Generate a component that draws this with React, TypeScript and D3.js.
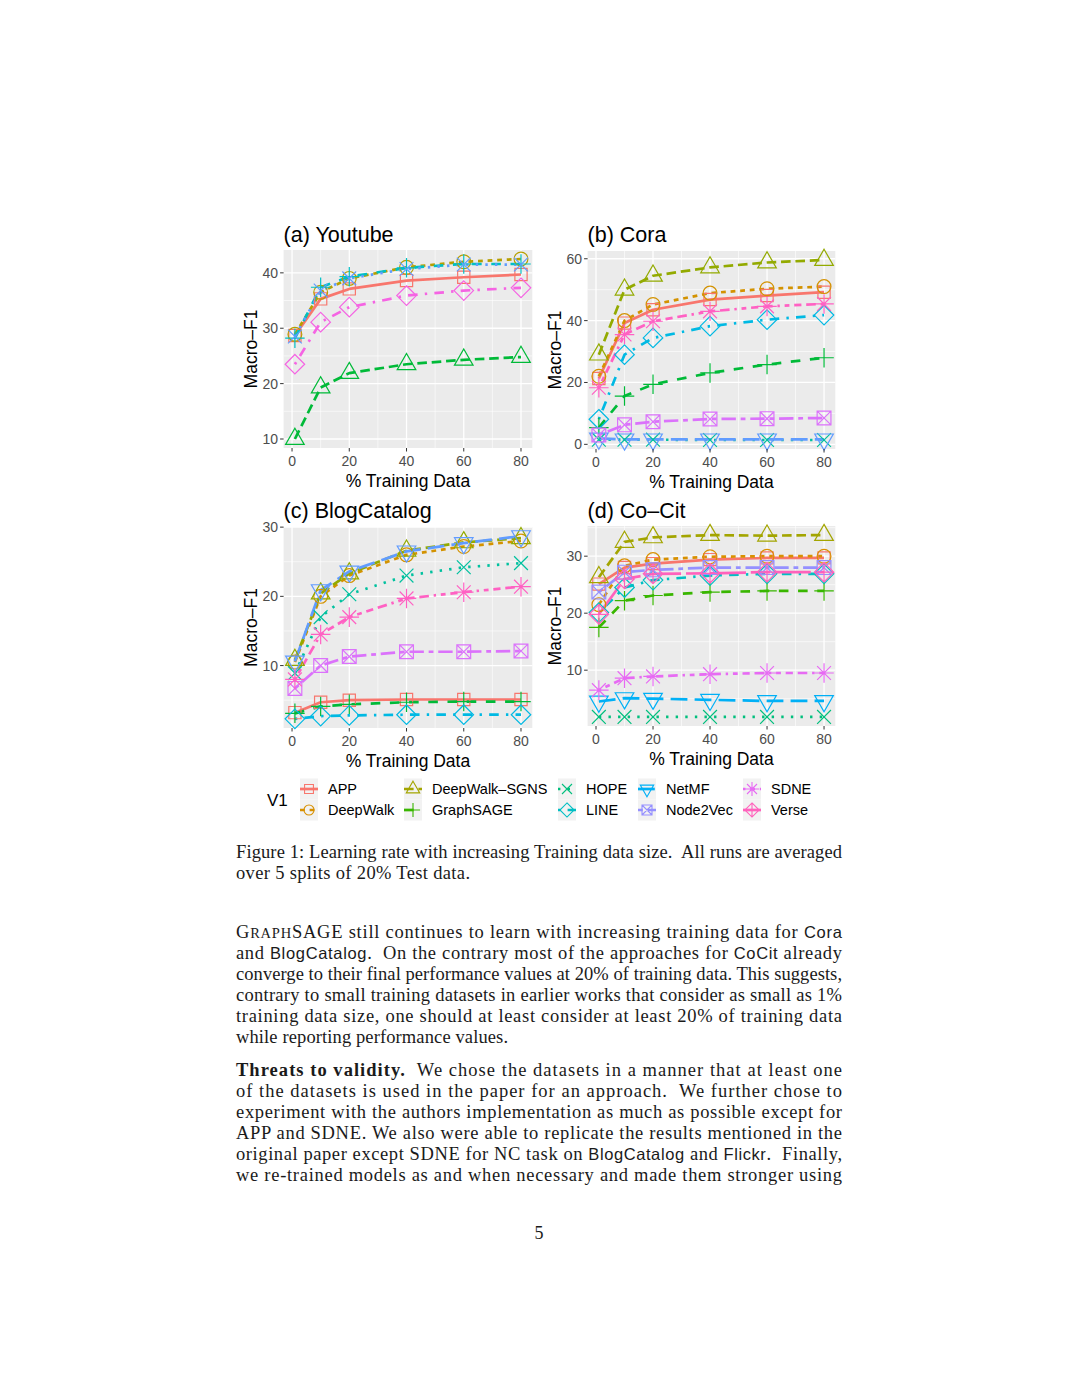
import React from "react"
import * as d3 from "d3"

// x values shared by all panels (% of training data)
const trainPct = [1, 10, 20, 40, 60, 80]
const xTicks = [0, 20, 40, 60, 80]

// (a) Youtube
const youtubeMethods = ["APP", "DeepWalk", "DeepWalk–SGNS", "GraphSAGE", "HOPE", "Verse"]
const youtubeValues = [
  [28.7, 35.3, 37.1, 38.6, 39.2, 39.7],
  [28.9, 36.5, 39.0, 41.0, 42.0, 42.5],
  [10.0, 19.3, 21.9, 23.5, 24.3, 24.8],
  [28.2, 37.4, 39.3, 40.9, 41.6, 41.6],
  [28.5, 36.8, 39.0, 40.7, 41.5, 41.5],
  [23.5, 31.1, 33.8, 35.9, 36.8, 37.3],
]
const youtubeTicks = [10, 20, 30, 40]

// (b) Cora
const coraMethods = ["APP", "DeepWalk", "DeepWalk–SGNS", "GraphSAGE", "HOPE", "LINE", "NetMF", "Node2Vec", "SDNE"]
const coraValues = [
  [21.3, 39.2, 43.5, 46.8, 48.1, 49.2],
  [22.0, 40.0, 45.2, 48.9, 50.3, 51.0],
  [29.0, 50.0, 54.5, 57.2, 58.8, 59.6],
  [5.4, 15.6, 19.4, 23.1, 25.8, 28.0],
  [1.5, 1.5, 1.5, 1.4, 1.4, 1.4],
  [8.1, 29.0, 34.4, 38.2, 40.3, 41.8],
  [1.9, 1.6, 1.6, 1.6, 1.6, 1.6],
  [3.0, 6.3, 7.3, 8.2, 8.3, 8.5],
  [18.3, 35.5, 39.8, 43.0, 44.6, 45.4],
]
const coraTicks = [0, 20, 40, 60]

// (c) BlogCatalog
const blogMethods = ["APP", "DeepWalk", "DeepWalk–SGNS", "GraphSAGE", "HOPE", "LINE", "NetMF", "Node2Vec", "SDNE"]
const blogValues = [
  [3.2, 4.7, 5.0, 5.1, 5.1, 5.1],
  [10.5, 20.0, 23.0, 26.0, 27.2, 28.0],
  [10.8, 20.4, 23.3, 26.6, 27.8, 28.4],
  [3.1, 4.1, 4.4, 4.7, 4.8, 4.8],
  [8.9, 17.0, 20.3, 23.0, 24.2, 24.8],
  [2.3, 2.7, 2.8, 2.9, 2.9, 2.9],
  [10.6, 20.9, 23.6, 26.5, 27.7, 28.7],
  [6.7, 10.0, 11.3, 12.0, 12.0, 12.1],
  [8.0, 14.5, 17.0, 19.7, 20.6, 21.4],
]
const blogTicks = [10, 20, 30]

// (d) Co-Cit
const cocitMethods = ["APP", "DeepWalk", "DeepWalk–SGNS", "GraphSAGE", "HOPE", "LINE", "NetMF", "Node2Vec", "SDNE", "Verse"]
const cocitValues = [
  [25.1, 28.0, 28.7, 29.4, 29.7, 29.7],
  [21.5, 28.3, 29.4, 29.9, 30.0, 30.0],
  [26.3, 32.5, 33.3, 33.7, 33.6, 33.7],
  [17.5, 22.2, 23.1, 23.7, 23.9, 23.9],
  [1.8, 1.8, 1.8, 1.8, 1.8, 1.8],
  [20.1, 24.5, 25.8, 26.6, 26.9, 26.9],
  [4.5, 5.1, 5.0, 4.8, 4.6, 4.6],
  [23.7, 27.2, 27.6, 28.0, 28.0, 28.0],
  [6.5, 8.6, 8.9, 9.3, 9.5, 9.5],
  [19.8, 26.0, 26.9, 27.0, 27.2, 27.2],
]
const cocitTicks = [10, 20, 30]

// page text
const captionLines = [
  "Figure 1: Learning rate with increasing Training data size.  All runs are averaged",
  "over 5 splits of 20% Test data.",
]
type Run = [string, string]
const para1: Run[][] = [
  [["G", "r"], ["RAPH", "sc"], ["SAGE still continues to learn with increasing training data for ", "r"], ["Cora", "sf"]],
  [["and ", "r"], ["BlogCatalog", "sf"], [".  On the contrary most of the approaches for ", "r"], ["CoCit", "sf"], [" already", "r"]],
  [["converge to their final performance values at 20% of training data. This suggests,", "r"]],
  [["contrary to small training datasets in earlier works that consider as small as 1%", "r"]],
  [["training data size, one should at least consider at least 20% of training data", "r"]],
  [["while reporting performance values.", "r"]],
]
const para2: Run[][] = [
  [["Threats to validity.", "b"], ["  We chose the datasets in a manner that at least one", "r"]],
  [["of the datasets is used in the paper for an approach.  We further chose to", "r"]],
  [["experiment with the authors implementation as much as possible except for", "r"]],
  [["APP and SDNE. We also were able to replicate the results mentioned in the", "r"]],
  [["original paper except SDNE for NC task on ", "r"], ["BlogCatalog", "sf"], [" and ", "r"], ["Flickr", "sf"], [".  Finally,", "r"]],
  [["we re-trained models as and when necessary and made them stronger using", "r"]],
]
const legendMethods = cocitMethods

// ggplot default hue palettes by number of levels
const palettes: Record<number, string[]> = {
  6: ["#F8766D", "#B79F00", "#00BA38", "#00BFC4", "#619CFF", "#F564E3"],
  9: ["#F8766D", "#D39200", "#93AA00", "#00BA38", "#00C19F", "#00B9E3", "#619CFF", "#DB72FB", "#FF61C3"],
  10: ["#F8766D", "#D89000", "#A3A500", "#39B600", "#00BF7D", "#00BFC4", "#00B0F6", "#9590FF", "#E76BF3", "#FF62BC"],
}
const linetypes = ["solid", "22", "42", "44", "13", "1343", "73", "2262", "12223242", "F282"]

const SANS = "Liberation Sans, Arial, sans-serif"
const SERIF = "Liberation Serif, Times New Roman, serif"
const LW = 2.7
const DASH_UNIT = 2.4

const dash = (lt: string) =>
  lt === "solid" ? undefined : lt.split("").map((c) => parseInt(c, 16) * DASH_UNIT).join(",")

// R pch 0..9 outlines
const shapePath = (k: number, a: number) => {
  const s = a * 0.886
  const r2 = a * Math.SQRT2
  const t0 = 1.5551 * a
  const t1 = 1.3468 * a
  const t2 = 0.7776 * a
  const sq = (h: number) => `M${-h},${-h}H${h}V${h}H${-h}Z`
  const ex = (h: number) => `M${-h},${-h}L${h},${h}M${-h},${h}L${h},${-h}`
  const pl = (h: number) => `M${-h},0H${h}M0,${-h}V${h}`
  const dia = `M0,${-r2}L${r2},0L0,${r2}L${-r2},0Z`
  switch (k) {
    case 0: return sq(s)
    case 1: return `M${a},0A${a},${a} 0 1,1 ${-a},0A${a},${a} 0 1,1 ${a},0Z`
    case 2: return `M0,${-t0}L${t1},${t2}L${-t1},${t2}Z`
    case 3: return pl(r2)
    case 4: return ex(a)
    case 5: return dia
    case 6: return `M0,${t0}L${t1},${-t2}L${-t1},${-t2}Z`
    case 7: return sq(a) + ex(a)
    case 8: return ex(a) + pl(r2)
    default: return dia + pl(r2)
  }
}

type PanelSpec = {
  title: string
  methods: string[]
  values: number[][]
  yTicks: number[]
  left: number
  right: number
  top: number
  bottom: number
  titleY: number
}

const panels: PanelSpec[] = [
  { title: "(a) Youtube", methods: youtubeMethods, values: youtubeValues, yTicks: youtubeTicks, left: 283.6, right: 532.3, top: 250, bottom: 448, titleY: 242 },
  { title: "(b) Cora", methods: coraMethods, values: coraValues, yTicks: coraTicks, left: 587.6, right: 835.3, top: 251, bottom: 449, titleY: 242 },
  { title: "(c) BlogCatalog", methods: blogMethods, values: blogValues, yTicks: blogTicks, left: 283.6, right: 532.3, top: 527, bottom: 728, titleY: 518 },
  { title: "(d) Co–Cit", methods: cocitMethods, values: cocitValues, yTicks: cocitTicks, left: 587.6, right: 835.3, top: 526, bottom: 726, titleY: 518 },
]

const Panel = ({ p }: { p: PanelSpec }) => {
  const [x0, x1] = d3.extent(trainPct) as [number, number]
  const xe = (x1 - x0) * 0.05
  const x = d3.scaleLinear().domain([x0 - xe, x1 + xe]).range([p.left, p.right])
  const [y0, y1] = d3.extent(p.values.flat()) as [number, number]
  const ye = (y1 - y0) * 0.05
  const y = d3.scaleLinear().domain([y0 - ye, y1 + ye]).range([p.bottom, p.top])

  const minors = (ticks: number[], dom: number[]) => {
    const st = ticks[1] - ticks[0]
    const out: number[] = []
    for (let v = ticks[0] - st / 2; v <= ticks[ticks.length - 1] + st / 2; v += st) {
      if (v >= dom[0] && v <= dom[1]) out.push(v)
    }
    return out
  }
  const xMinor = minors(xTicks, x.domain())
  const yMinor = minors(p.yTicks, y.domain())
  const colors = palettes[p.methods.length]
  const lineGen = d3.line<number>().x((_, i) => x(trainPct[i])).y((d) => y(d))
  const cx = (p.left + p.right) / 2
  const cy = (p.top + p.bottom) / 2

  return (
    <g>
      <text x={p.left} y={p.titleY} fontFamily={SANS} fontSize={21.5} fill="#000">{p.title}</text>
      <rect x={p.left} y={p.top} width={p.right - p.left} height={p.bottom - p.top} fill="#EBEBEB" />
      {xMinor.map((v) => <line key={"xm" + v} x1={x(v)} x2={x(v)} y1={p.top} y2={p.bottom} stroke="#fff" strokeWidth={0.6} />)}
      {yMinor.map((v) => <line key={"ym" + v} x1={p.left} x2={p.right} y1={y(v)} y2={y(v)} stroke="#fff" strokeWidth={0.6} />)}
      {xTicks.map((v) => <line key={"xM" + v} x1={x(v)} x2={x(v)} y1={p.top} y2={p.bottom} stroke="#fff" strokeWidth={1.3} />)}
      {p.yTicks.map((v) => <line key={"yM" + v} x1={p.left} x2={p.right} y1={y(v)} y2={y(v)} stroke="#fff" strokeWidth={1.3} />)}

      {p.values.map((vals, i) => (
        <path key={"l" + i} d={lineGen(vals) ?? ""} fill="none" stroke={colors[i]} strokeWidth={LW}
          strokeDasharray={dash(linetypes[i])} strokeLinejoin="round" />
      ))}
      {p.values.map((vals, i) =>
        vals.map((v, j) => (
          <path key={"p" + i + "-" + j} transform={`translate(${x(trainPct[j])},${y(v)})`}
            d={shapePath(i, 6.9)} fill="none" stroke={colors[i]} strokeWidth={1.2} />
        )),
      )}

      {xTicks.map((v) => (
        <g key={"xt" + v}>
          <line x1={x(v)} x2={x(v)} y1={p.bottom} y2={p.bottom + 3.5} stroke="#333" strokeWidth={1} />
          <text x={x(v)} y={p.bottom + 18} textAnchor="middle" fontFamily={SANS} fontSize={14} fill="#4D4D4D">{v}</text>
        </g>
      ))}
      {p.yTicks.map((v) => (
        <g key={"yt" + v}>
          <line x1={p.left - 3.5} x2={p.left} y1={y(v)} y2={y(v)} stroke="#333" strokeWidth={1} />
          <text x={p.left - 5.5} y={y(v) + 5} textAnchor="end" fontFamily={SANS} fontSize={14} fill="#4D4D4D">{v}</text>
        </g>
      ))}
      <text x={cx} y={p.bottom + 39} textAnchor="middle" fontFamily={SANS} fontSize={17.5} fill="#000">% Training Data</text>
      <text transform={`translate(${p.left - 27},${cy}) rotate(-90)`} textAnchor="middle" fontFamily={SANS} fontSize={17.5} fill="#000">Macro–F1</text>
    </g>
  )
}

const Legend = () => {
  const colX = [309, 413, 567, 647, 752]
  const rowY = [789, 810]
  const colors = palettes[legendMethods.length]
  return (
    <g>
      <text x={267} y={806} fontFamily={SANS} fontSize={17} fill="#000">V1</text>
      {legendMethods.map((m, i) => {
        const kx = colX[Math.floor(i / 2)]
        const ky = rowY[i % 2]
        return (
          <g key={m}>
            <rect x={kx - 9} y={ky - 10.5} width={18} height={21} fill="#F2F2F2" />
            <line x1={kx - 9} x2={kx + 9} y1={ky} y2={ky} stroke={colors[i]} strokeWidth={LW}
              strokeDasharray={dash(linetypes[i])} />
            <path transform={`translate(${kx},${ky})`} d={shapePath(i, 5)} fill="none" stroke={colors[i]} strokeWidth={1.1} />
            <text x={kx + 19} y={ky + 5} fontFamily={SANS} fontSize={14.5} fill="#000">{m}</text>
          </g>
        )
      })}
    </g>
  )
}

const runStyle = (s: string) => {
  if (s === "sc") return { fontFamily: SERIF, fontSize: 14.5 }
  if (s === "sf") return { fontFamily: SANS, fontSize: 16.5 }
  if (s === "b") return { fontFamily: SERIF, fontSize: 18.5, fontWeight: 700 as const }
  return { fontFamily: SERIF, fontSize: 18.5 }
}

const TextLine = ({ runs, y, width }: { runs: Run[]; y: number; width: number }) => (
  <text x={236} y={y} textLength={width} lengthAdjust="spacing" fill="#1a1a1a" style={{ whiteSpace: "pre" }}>
    {runs.map(([t, s], i) => (
      <tspan key={i} {...runStyle(s)}>{t}</tspan>
    ))}
  </text>
)

export default function App() {
  return (
    <svg width={1080} height={1397} viewBox="0 0 1080 1397"
      style={{ position: "absolute", left: 0, top: 0, display: "block", background: "#fff" }}>
      <rect width={1080} height={1397} fill="#fff" />
      {panels.map((p) => <Panel key={p.title} p={p} />)}
      <Legend />
      <TextLine runs={[[captionLines[0], "r"]]} y={858} width={606} />
      <TextLine runs={[[captionLines[1], "r"]]} y={879} width={234} />
      {para1.map((runs, i) => (
        <TextLine key={"a" + i} runs={runs} y={938 + i * 21} width={i === para1.length - 1 ? 272 : 606} />
      ))}
      {para2.map((runs, i) => (
        <TextLine key={"b" + i} runs={runs} y={1076 + i * 21} width={606} />
      ))}
      <text x={539} y={1239} textAnchor="middle" fontFamily={SERIF} fontSize={18} fill="#1a1a1a">5</text>
    </svg>
  )
}
